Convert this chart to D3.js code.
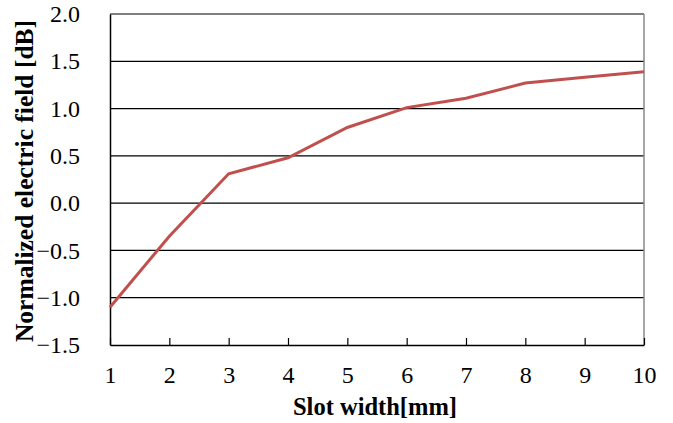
<!DOCTYPE html>
<html>
<head>
<meta charset="utf-8">
<script src="https://cdn.jsdelivr.net/npm/d3@7"></script>
<style>
    body { margin: 0; background: #fff; }
</style>
</head>
<body>
<div id="chart"></div>
<script>
// slot width (mm) vs normalized electric field (dB)
const slotWidth = [1, 2, 3, 4, 5, 6, 7, 8, 9, 10];
const fieldDb = [-1.10, -0.35, 0.31, 0.48, 0.80, 1.01, 1.11, 1.27, 1.33, 1.39];
const yTicks = [-1.5, -1.0, -0.5, 0.0, 0.5, 1.0, 1.5, 2.0];

const FONT = "Liberation Serif";

let margin = {top: 14, right: 29, bottom: 78, left: 110};
let width = 673 - margin.left - margin.right;
let height = 423 - margin.top - margin.bottom;

let svg = d3.select("#chart")
    .append("svg")
    .attr("width", 673)
    .attr("height", 423)
    .append("g")
    .attr("transform", "translate(" + margin.left + "," + margin.top + ")");

let x = d3.scaleLinear().domain([1, 10]).range([0, width]);
let y = d3.scaleLinear().domain([-1.5, 2.0]).range([height, 0]);

// horizontal gridlines
svg.append("g")
    .selectAll("line")
    .data(yTicks.slice(1))
    .enter()
    .append("line")
    .attr("x1", 0)
    .attr("x2", width)
    .attr("y1", d => y(d))
    .attr("y2", d => y(d))
    .attr("stroke", "#000")
    .attr("stroke-width", 1.2);

// right border
svg.append("line")
    .attr("x1", width).attr("x2", width)
    .attr("y1", 0).attr("y2", height)
    .attr("stroke", "#888")
    .attr("stroke-width", 1.5);

// x axis
let xAxis = svg.append("g")
    .attr("transform", "translate(0," + height + ")")
    .call(d3.axisBottom(x).tickValues(slotWidth).tickSizeInner(-7).tickSizeOuter(0).tickPadding(21));
xAxis.select(".domain").attr("stroke", "#000").attr("stroke-width", 1.5);
xAxis.selectAll(".tick line").attr("stroke", "#000").attr("stroke-width", 1.2);
xAxis.selectAll("text").style("font-family", FONT).style("font-size", "24px").attr("fill", "#000");

// y axis
let yAxis = svg.append("g")
    .call(d3.axisLeft(y).tickValues(yTicks).tickSize(0).tickPadding(30).tickFormat(d3.format(".1f")));
yAxis.select(".domain").attr("stroke", "#000").attr("stroke-width", 1.5);
yAxis.selectAll("text").style("font-family", FONT).style("font-size", "24px").attr("fill", "#000");

// data line
svg.append("path")
    .datum(slotWidth.map((d, i) => [d, fieldDb[i]]))
    .attr("fill", "none")
    .attr("stroke", "#c0504d")
    .attr("stroke-width", 3)
    .attr("d", d3.line().x(d => x(d[0])).y(d => y(d[1])));

svg.append("text")
    .attr("text-anchor", "middle")
    .attr("x", 265)
    .attr("y", height + 70)
    .style("font-family", FONT)
    .style("font-size", "24.5px")
    .style("font-weight", "bold")
    .text("Slot width[mm]");

svg.append("text")
    .attr("text-anchor", "middle")
    .attr("transform", "rotate(-90)")
    .attr("x", -167)
    .attr("y", -77)
    .style("font-family", FONT)
    .style("font-size", "25.5px")
    .style("font-weight", "bold")
    .text("Normalized electric field [dB]");
</script>
</body>
</html>
